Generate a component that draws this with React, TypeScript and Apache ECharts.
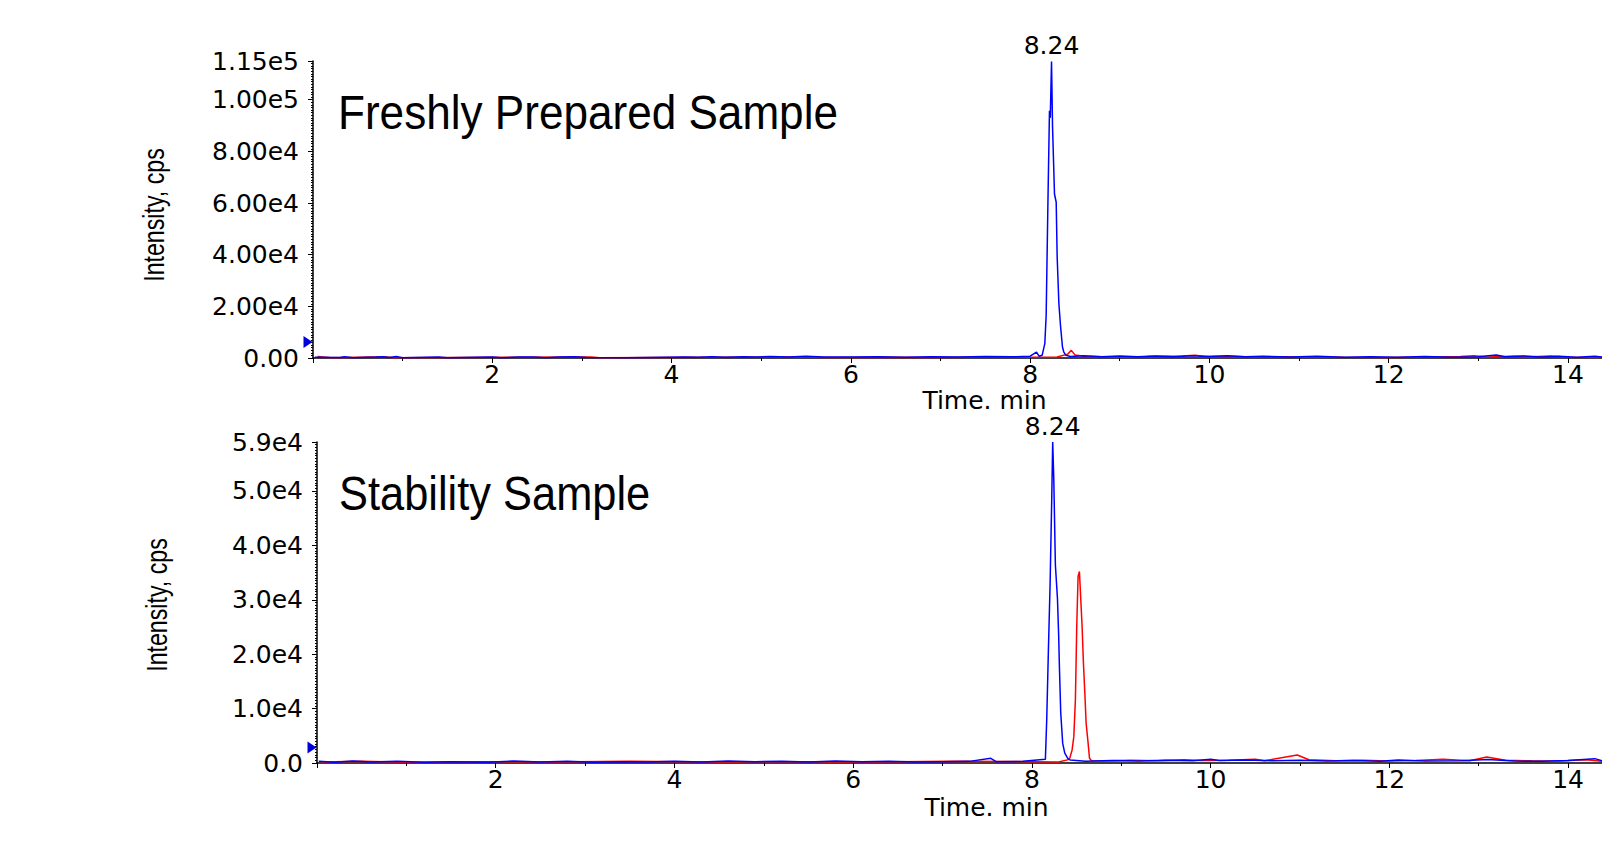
import React, { useEffect, useRef } from "react";
import * as echarts from "echarts";

// ---- axis settings ----
const X_MAX = 14.38;
const X_INTERVAL = 2;
const TOP_Y_MAX = 115000;
const TOP_Y_INTERVAL = 20000;
const BOT_Y_MAX = 59000;
const BOT_Y_INTERVAL = 10000;

const PANEL_TITLES = ["Freshly Prepared Sample", "Stability Sample"];
const Y_NAME = "Intensity, cps";
const X_NAME = "Time. min";
const PEAK_LABELS = ["8.24", "8.24"];
const THRESHOLDS = [6200, 2850];

// ---- Freshly prepared sample (time min, intensity cps) ----
const freshBlue: [number, number][] = [
  [0.02, 300], [0.3, 150], [0.35, 450], [0.45, 100], [0.7, 350], [0.78, 500], [0.85, 200],
  [0.93, 550], [1.0, 120], [1.4, 380], [1.5, 100], [2.0, 420], [2.1, 90], [2.3, 360],
  [2.45, 400], [2.6, 110], [2.75, 380], [2.92, 520], [3.05, 150], [3.5, 120], [4.15, 400],
  [4.3, 250], [4.45, 480], [4.6, 300], [4.8, 520], [4.95, 350], [5.1, 600], [5.3, 400],
  [5.5, 650], [5.7, 420], [6.0, 350], [6.3, 480], [6.6, 300], [6.9, 520], [7.2, 380],
  [7.5, 600], [7.8, 450], [8.0, 700], [8.071, 2300], [8.1, 700], [8.134, 1030],
  [8.164, 5540], [8.179, 16490], [8.198, 58350], [8.216, 95700], [8.225, 93000],
  [8.239, 114800], [8.25, 89900], [8.272, 63500], [8.291, 60300], [8.302, 39000],
  [8.321, 21000], [8.339, 12600], [8.361, 4250], [8.376, 2300], [8.4, 1030], [8.45, 600],
  [8.6, 900], [8.8, 500], [9.0, 750], [9.2, 450], [9.4, 800], [9.6, 500], [9.8, 850],
  [10.0, 600], [10.2, 900], [10.4, 450], [10.6, 700], [10.9, 350], [11.2, 650], [11.5, 300],
  [11.8, 500], [12.1, 250], [12.4, 600], [12.7, 300], [13.0, 450], [13.2, 1200], [13.3, 500],
  [13.5, 800], [13.7, 400], [13.9, 650], [14.1, 300], [14.3, 700], [14.38, 400],
];
const freshRed: [number, number][] = [
  [0.05, 600], [0.2, 100], [0.8, 450], [0.9, 100], [1.6, 200], [3.1, 400], [3.2, 100],
  [4.5, 250], [5.2, 350], [5.8, 150], [6.4, 300], [7.0, 200], [7.6, 350], [8.0, 250],
  [8.3, 400], [8.42, 1500], [8.46, 2960], [8.5, 1200], [8.6, 700], [8.9, 400], [9.3, 550],
  [9.7, 800], [9.84, 1100], [9.95, 600], [10.2, 700], [10.5, 350], [10.8, 500], [11.1, 300],
  [11.5, 250], [12.0, 200], [12.5, 350], [12.8, 600], [12.95, 900], [13.1, 400], [13.4, 700],
  [13.6, 500], [13.8, 750], [14.0, 300], [14.38, 200],
];

// ---- Stability sample ----
const stabBlue: [number, number][] = [
  [0.02, 300], [0.2, 150], [0.4, 350], [0.6, 200], [0.9, 300], [1.2, 150], [1.5, 250],
  [1.9, 150], [2.2, 350], [2.5, 200], [2.8, 300], [3.1, 150], [3.4, 250], [3.7, 200],
  [4.0, 300], [4.3, 200], [4.6, 350], [4.9, 250], [5.2, 300], [5.5, 200], [5.8, 350],
  [6.1, 250], [6.4, 300], [6.7, 200], [7.0, 250], [7.3, 300], [7.54, 860], [7.6, 250],
  [7.9, 300], [8.151, 670], [8.166, 7900], [8.185, 20800], [8.204, 33000], [8.222, 48400],
  [8.233, 59000], [8.245, 52300], [8.263, 36400], [8.286, 30300], [8.3, 23300],
  [8.308, 17800], [8.323, 9200], [8.345, 3600], [8.368, 1800], [8.402, 860], [8.428, 550],
  [8.6, 300], [8.9, 450], [9.2, 350], [9.5, 500], [9.8, 400], [10.0, 700], [10.1, 450],
  [10.4, 550], [10.7, 400], [11.0, 500], [11.3, 350], [11.6, 450], [11.9, 300], [12.1, 550],
  [12.4, 350], [12.8, 400], [13.1, 650], [13.4, 350], [13.7, 300], [14.0, 450], [14.3, 800],
  [14.38, 400],
];
const stabRed: [number, number][] = [
  [0.05, 200], [0.5, 300], [1.0, 150], [1.8, 250], [2.6, 200], [3.5, 300], [4.4, 200],
  [5.3, 250], [6.2, 200], [7.1, 300], [8.0, 250], [8.3, 200], [8.42, 670], [8.45, 2400],
  [8.469, 4800], [8.487, 11600], [8.502, 25100], [8.517, 34300], [8.532, 35200],
  [8.543, 31500], [8.562, 25100], [8.577, 18300], [8.592, 13100], [8.607, 7300],
  [8.626, 4200], [8.645, 860], [8.667, 430], [8.8, 350], [9.1, 500], [9.4, 400], [9.7, 600],
  [9.9, 450], [10.2, 500], [10.5, 700], [10.6, 400], [10.97, 1470], [11.1, 600], [11.4, 400],
  [11.7, 500], [12.0, 350], [12.3, 450], [12.6, 700], [12.9, 400], [13.09, 1100], [13.3, 500],
  [13.6, 400], [13.9, 350], [14.2, 600], [14.38, 300],
];

const BLUE = "#0000ff";
const RED = "#ff0000";
const AXIS_FONT = "DejaVu Sans";
const TITLE_FONT = "'Liberation Sans', Arial, sans-serif";
const AXIS_FS = 25;

function xAxisCfg(gridIndex: number, gap: number) {
  return {
    type: "value",
    gridIndex,
    min: 0,
    max: X_MAX,
    interval: X_INTERVAL,
    axisLine: { show: true, onZero: false, lineStyle: { color: "#000", width: 1.5 } },
    axisTick: { show: true, length: 5, lineStyle: { color: "#000", width: 1 } },
    minorTick: { show: true, splitNumber: 2, length: 3, lineStyle: { color: "#000", width: 1 } },
    splitLine: { show: false },
    axisLabel: {
      color: "#000",
      fontFamily: AXIS_FONT,
      fontSize: AXIS_FS,
      margin: 4,
      showMinLabel: false,
      showMaxLabel: false,
    },
    name: X_NAME,
    nameLocation: "middle",
    nameGap: gap,
    nameTextStyle: { color: "#000", fontFamily: AXIS_FONT, fontSize: AXIS_FS, padding: [0, 0, 0, 54] },
  };
}

function yAxisCfg(gridIndex: number, max: number, interval: number, digits: number) {
  return {
    type: "value",
    gridIndex,
    min: 0,
    max,
    interval,
    axisLine: { show: true, lineStyle: { color: "#000", width: 1.5 } },
    axisTick: { show: true, length: 5, lineStyle: { color: "#000", width: 1 } },
    minorTick: { show: true, splitNumber: 20, length: 2, lineStyle: { color: "#000", width: 1 } },
    splitLine: { show: false },
    axisLabel: {
      color: "#000",
      fontFamily: AXIS_FONT,
      fontSize: AXIS_FS,
      margin: 14,
      showMinLabel: true,
      showMaxLabel: true,
      formatter: (v: number) =>
        v === 0 ? (0).toFixed(digits) : v.toExponential(digits).replace("e+", "e"),
    },
  };
}

function peakMarks(idx: number, dist: number) {
  return {
    silent: true,
    animation: false,
    data: [
      {
        type: "max",
        symbol: "circle",
        symbolSize: 0,
        itemStyle: { color: "rgba(0,0,0,0)" },
        label: {
          show: true,
          position: "top",
          distance: dist,
          formatter: PEAK_LABELS[idx],
          color: "#000",
          fontFamily: AXIS_FONT,
          fontSize: AXIS_FS,
        },
      },
      {
        coord: [0, THRESHOLDS[idx]],
        symbol: "triangle",
        symbolSize: [12, 9],
        symbolRotate: -90,
        symbolOffset: [-5, 0],
        itemStyle: { color: "#0000dd" },
        label: { show: false },
      },
    ],
  };
}

function lineSeries(data: [number, number][], color: string, grid: number, z: number, extra: any = {}) {
  return {
    type: "line",
    xAxisIndex: grid,
    yAxisIndex: grid,
    data,
    showSymbol: false,
    symbol: "none",
    lineStyle: { color, width: 1.5 },
    itemStyle: { color },
    z,
    clip: true,
    ...extra,
  };
}

export default function App() {
  const ref = useRef<HTMLDivElement>(null);
  useEffect(() => {
    if (!ref.current) return;
    const chart = echarts.init(ref.current, undefined, { renderer: "svg" });
    chart.setOption({
      animation: false,
      backgroundColor: "#fff",
      grid: [
        { left: 313, right: 0, top: 61, height: 297, containLabel: false, outerBoundsMode: "none" },
        { left: 317, right: 0, top: 442, height: 321, containLabel: false, outerBoundsMode: "none" },
      ],
      xAxis: [xAxisCfg(0, 30), xAxisCfg(1, 32)],
      yAxis: [
        yAxisCfg(0, TOP_Y_MAX, TOP_Y_INTERVAL, 2),
        yAxisCfg(1, BOT_Y_MAX, BOT_Y_INTERVAL, 1),
      ],
      series: [
        lineSeries(freshRed, RED, 0, 2),
        lineSeries(freshBlue, BLUE, 0, 3, { markPoint: peakMarks(0, 4) }),
        lineSeries(stabRed, RED, 1, 2),
        lineSeries(stabBlue, BLUE, 1, 3, { markPoint: peakMarks(1, 3) }),
      ],
      graphic: [
        {
          type: "text",
          x: 338,
          y: 112.5,
          scaleX: 0.9,
          style: {
            text: PANEL_TITLES[0],
            font: `49px ${TITLE_FONT}`,
            fill: "#000",
            align: "left",
            verticalAlign: "middle",
          },
        },
        {
          type: "text",
          x: 339,
          y: 493,
          scaleX: 0.886,
          style: {
            text: PANEL_TITLES[1],
            font: `49px ${TITLE_FONT}`,
            fill: "#000",
            align: "left",
            verticalAlign: "middle",
          },
        },
        {
          type: "text",
          x: 154.5,
          y: 215,
          rotation: Math.PI / 2,
          scaleX: 0.8,
          style: {
            text: Y_NAME,
            font: `29px ${TITLE_FONT}`,
            fill: "#000",
            align: "center",
            verticalAlign: "middle",
          },
        },
        {
          type: "text",
          x: 157,
          y: 605,
          rotation: Math.PI / 2,
          scaleX: 0.8,
          style: {
            text: Y_NAME,
            font: `29px ${TITLE_FONT}`,
            fill: "#000",
            align: "center",
            verticalAlign: "middle",
          },
        },
      ],
    });
    return () => chart.dispose();
  }, []);
  return (
    <div
      ref={ref}
      style={{ position: "absolute", left: 0, top: 0, width: 1602, height: 842, background: "#fff" }}
    />
  );
}
